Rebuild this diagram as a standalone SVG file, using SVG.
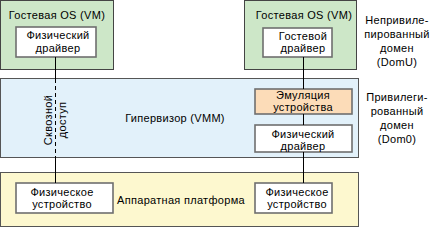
<svg xmlns="http://www.w3.org/2000/svg" width="437" height="228" viewBox="0 0 437 228">
<style>
text{font-family:"Liberation Sans",Arial,sans-serif;font-size:11px;fill:#000;letter-spacing:0.3px;}
.c{text-anchor:middle;}
.vm{fill:#cde7c8;stroke:#444;stroke-width:1;}
.inner{fill:#fff;stroke:#6f6f6f;stroke-width:1.6;}
.hv{fill:#e2f1fa;stroke:#555;stroke-width:1;}
.hw{fill:#fdf8cf;stroke:#555;stroke-width:1;}
.emu{fill:#fcdcb8;stroke:#6f6f6f;stroke-width:1.6;}
.ln{stroke:#000;stroke-width:1;fill:none;}
</style>
<rect width="437" height="228" fill="#fff"/>
<g id="hypervisor">
<rect class="hv" x="0.5" y="78.5" width="358" height="79"/>
<text x="175" y="122" class="c">Гипервизор (VMM)</text>
</g>
<g id="hardware">
<rect class="hw" x="0.5" y="172.5" width="358" height="54"/>
<text x="181" y="204" class="c">Аппаратная платформа</text>
</g>
<g id="vm-left">
<rect class="vm" x="0.5" y="0.5" width="113" height="69"/>
<text x="57" y="19" class="c">Гостевая OS (VM)</text>
</g>
<g id="vm-right">
<rect class="vm" x="244.5" y="0.5" width="112" height="69"/>
<text x="304" y="19" class="c">Гостевая OS (VM)</text>
</g>
<g id="phys-driver-vm">
<rect class="inner" x="16" y="27" width="80" height="30"/>
<text x="58" y="39" class="c">Физический</text>
<text x="58" y="52" class="c">драйвер</text>
</g>
<g id="guest-driver">
<rect class="inner" x="263" y="28" width="69" height="29"/>
<text x="303" y="40" class="c">Гостевой</text>
<text x="303" y="52" class="c">драйвер</text>
</g>
<g id="emulation">
<rect class="emu" x="255" y="89" width="97" height="25"/>
<text x="303" y="99" class="c">Эмуляция</text>
<text x="303" y="111" class="c">устройства</text>
</g>
<g id="phys-driver-dom0">
<rect class="inner" x="255" y="125" width="97" height="27"/>
<text x="303" y="138" class="c">Физический</text>
<text x="303" y="150" class="c">драйвер</text>
</g>
<g id="phys-dev-left">
<rect class="inner" x="16" y="183" width="97" height="30"/>
<text x="62" y="196" class="c">Физическое</text>
<text x="62" y="208" class="c">устройство</text>
</g>
<g id="phys-dev-right">
<rect class="inner" x="255" y="183" width="77" height="30"/>
<text x="297" y="196" class="c">Физическое</text>
<text x="297" y="208" class="c">устройство</text>
</g>
<g id="labels">
<text x="397" y="24" class="c">Непривиле-</text>
<text x="397" y="38" class="c">пированный</text>
<text x="397" y="52" class="c">домен</text>
<text x="397" y="66" class="c">(DomU)</text>
<text x="397" y="101" class="c">Привилеги-</text>
<text x="397" y="115" class="c">рованный</text>
<text x="397" y="129" class="c">домен</text>
<text x="397" y="143" class="c">(Dom0)</text>
<text transform="translate(52,120) rotate(-90)" class="c">Сквозной</text>
<text transform="translate(66,120) rotate(-90)" class="c">доступ</text>
</g>
<g id="connectors">
<line class="ln" x1="55.5" y1="57" x2="55.5" y2="79"/>
<line class="ln" x1="55.5" y1="79" x2="55.5" y2="158" stroke-dasharray="4,3"/>
<line class="ln" x1="55.5" y1="158" x2="55.5" y2="183"/>
<line class="ln" x1="303.5" y1="57" x2="303.5" y2="89"/>
<line class="ln" x1="303.5" y1="114" x2="303.5" y2="125"/>
<line class="ln" x1="303.5" y1="152" x2="303.5" y2="183"/>
</g>
</svg>
